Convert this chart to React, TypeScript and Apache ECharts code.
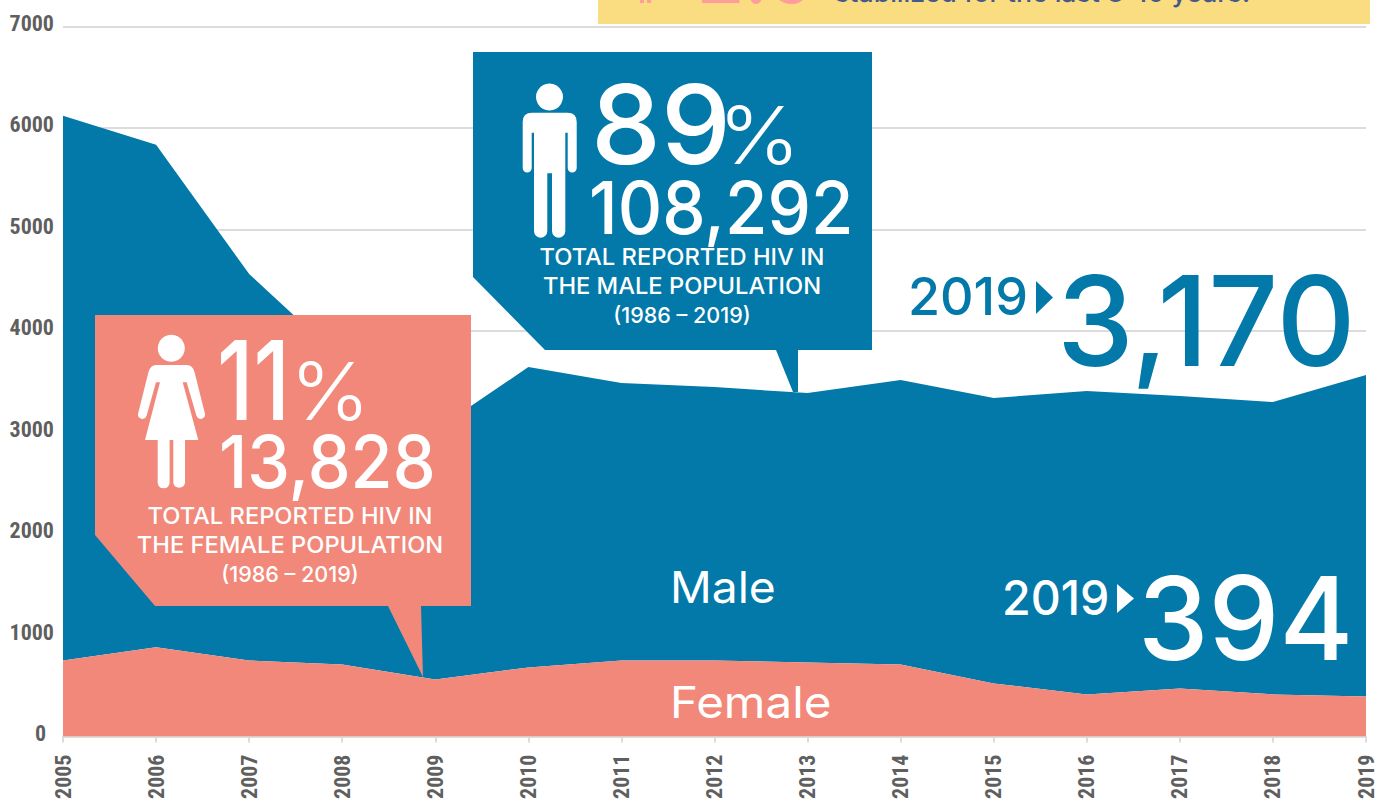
import React, { useEffect, useRef } from "react";
import * as echarts from "echarts";

const years = ["2005","2006","2007","2008","2009","2010","2011","2012","2013","2014","2015","2016","2017","2018","2019"];
const femaleValues = [750,879,750,711,563,681,750,750,730,711,523,415,474,415,394];
const maleValues = [5370,4955,3810,3001,2457,2961,2735,2695,2656,2803,2814,2991,2882,2882,3170];

const BLUE = "#0279a9";
const PINK = "#f1887a";
const GREY = "#5f5f5f";
const FONT = "Inter";

const MALE_ICON = "M522.7 122 Q522.7 112.7 532 112.7 L567.5 112.7 Q576.7 112.7 576.7 122 L576.7 168 A4.5 4.5 0 0 1 567.7 168 L567.7 132.7 L565.3 132.7 L565.3 231 A6.65 6.65 0 0 1 552 231 L552 173.3 L547.3 173.3 L547.3 231 A6.65 6.65 0 0 1 534 231 L534 132.7 L531.7 132.7 L531.7 168 A4.5 4.5 0 0 1 522.7 168 Z";
const FEMALE_ICON = "M156 365 L187 365 Q192.5 365 194.5 372 L205 414 A4.4 4.4 0 0 1 196.5 416 L186.7 382.3 L182.7 382.3 L198.3 440 L185 440 L185 483 A6 6 0 0 1 173.3 483 L173.3 440 L169.6 440 L169.6 483 A6 6 0 0 1 157.7 483 L157.7 440 L145 440 L160 382.3 L156 382.3 L146.5 416 A4.4 4.4 0 0 1 138 414 L148.5 372 Q150.5 365 156 365 Z";
echarts.graphic.registerShape("maleIcon", echarts.graphic.extendPath(MALE_ICON, {}));
echarts.graphic.registerShape("femaleIcon", echarts.graphic.extendPath(FEMALE_ICON, {}));

function txt(text: string, x: number, y: number, size: number, fill: string, align = "left", weight = 500, scaleX = 1) {
  return {
    type: "text", x, y, z: 20, scaleX,
    style: { text, fontFamily: FONT, fontSize: size, fontWeight: weight, fill, align, verticalAlign: "middle" },
  };
}
function poly(points: number[][], fill: string, z = 10) {
  return { type: "polygon", z, shape: { points }, style: { fill } };
}

const graphics: any[] = [
  { type: "rect", z: 10, shape: { x: 598, y: 0, width: 772, height: 24 }, style: { fill: "#f9dd80" } },
  { type: "rect", z: 11, shape: { x: 640, y: -10, width: 4, height: 13 }, style: { fill: "#ff9c9c" } },
  { type: "rect", z: 11, shape: { x: 647, y: -10, width: 4, height: 13 }, style: { fill: "#ff9c9c" } },
  txt("2.5", 697, -30, 92, "#ff9c9c", "left", 600, 0.82),
  txt("stabilized for the last 8-10 years.", 835, -7, 26, "#45598a", "left", 500, 1.025),

  poly([[473,52],[872,52],[872,350],[798,350],[798,392],[793,392],[776,350],[545,350],[473,277]], BLUE),
  { type: "circle", z: 20, shape: { cx: 549.5, cy: 97, r: 13.5 }, style: { fill: "#fff" } },
  { type: "maleIcon", z: 20, x: 0, y: 0, style: { fill: "#fff" } },
  txt("89", 591, 124, 110, "#fff", "left", 500, 1.01),
  txt("%", 718, 135, 80, "#fff", "left", 300, 1.1),
  txt("108,292", 589, 207, 73, "#fff", "left", 500, 0.945),
  txt("TOTAL REPORTED HIV IN", 682, 257, 23, "#fff", "center", 500, 1.03),
  txt("THE MALE POPULATION", 682, 286, 23, "#fff", "center", 500, 1.03),
  txt("(1986 – 2019)", 682, 315, 22, "#fff", "center", 500, 0.98),

  poly([[95,315],[471,315],[471,606],[421,606],[423,677],[388,606],[155,606],[95,535]], PINK, 12),
  { type: "circle", z: 20, shape: { cx: 171.3, cy: 348.3, r: 13.5 }, style: { fill: "#fff" } },
  { type: "femaleIcon", z: 20, x: 0, y: 0, style: { fill: "#fff" } },
  txt("11", 217, 380, 110, "#fff", "left", 500, 0.8),
  txt("%", 290, 391, 80, "#fff", "left", 300, 1.07),
  txt("13,828", 219, 462, 73, "#fff", "left", 500, 0.935),
  txt("TOTAL REPORTED HIV IN", 290, 516, 23, "#fff", "center", 500, 1.03),
  txt("THE FEMALE POPULATION", 290, 545, 23, "#fff", "center", 500, 1.03),
  txt("(1986 – 2019)", 290, 574, 22, "#fff", "center", 500, 0.98),

  txt("2019", 908, 296, 52, BLUE, "left", 450),
  poly([[1036,281],[1053,297.5],[1036,314]], BLUE),
  txt("3,170", 1057, 321, 125, BLUE, "left", 500, 0.98),
  txt("2019", 1002, 597, 48, "#fff", "left", 450, 0.97),
  poly([[1117,584],[1134,598.5],[1117,613]], "#fff"),
  txt("394", 1138, 618, 116, "#fff", "left", 500, 0.97),
  txt("Male", 670, 587, 44, "#fff", "left", 400, 1.05),
  txt("Female", 670, 702, 44, "#fff", "left", 400, 1.08),
];

export default function App() {
  const ref = useRef<HTMLDivElement>(null);
  useEffect(() => {
    const chart = echarts.init(ref.current!, null, { renderer: "svg" });
    const labelFont = {
      fontFamily: "'Liberation Sans Narrow','Roboto Condensed','Open Sans Condensed','Noto Sans Condensed','DejaVu Sans Condensed',sans-serif",
      fontWeight: 700, fontSize: 22, color: GREY,
    };
    chart.setOption({
      animation: false,
      backgroundColor: "#fff",
      grid: { left: 63, right: 20, top: 26.5, bottom: 64.5, outerBoundsMode: "none" },
      xAxis: {
        type: "category",
        boundaryGap: false,
        data: years,
        axisLine: { lineStyle: { color: "#dcdcdc", width: 2 } },
        axisTick: { alignWithLabel: true, length: 6, lineStyle: { color: "#dcdcdc", width: 2 } },
        axisLabel: { ...labelFont, rotate: 90, margin: 18, interval: 0, hideOverlap: false },
        splitLine: { show: false },
      },
      yAxis: {
        type: "value",
        min: 0,
        max: 7000,
        interval: 1000,
        axisLine: { show: false },
        axisTick: { show: false },
        axisLabel: {
          ...labelFont,
          margin: 9,
          padding: [0, 0, 6, 0],
          formatter: (v: number) => (v === 0 ? "{z|0}" : String(v)),
          rich: { z: { ...labelFont, padding: [0, 8, 0, 0] } },
        },
        splitLine: { lineStyle: { color: "#dcdcdc", width: 2 } },
      },
      series: [
        {
          name: "Female", type: "line", stack: "total", data: femaleValues,
          symbol: "none", lineStyle: { width: 0 }, areaStyle: { color: PINK, opacity: 1 }, z: 3,
        },
        {
          name: "Male", type: "line", stack: "total", data: maleValues,
          symbol: "none", lineStyle: { width: 0 }, areaStyle: { color: BLUE, opacity: 1 }, z: 2,
        },
      ],
      graphic: { elements: graphics },
    });
    return () => chart.dispose();
  }, []);
  return <div ref={ref} style={{ position: "absolute", left: 0, top: 0, width: 1386, height: 801 }} />;
}
